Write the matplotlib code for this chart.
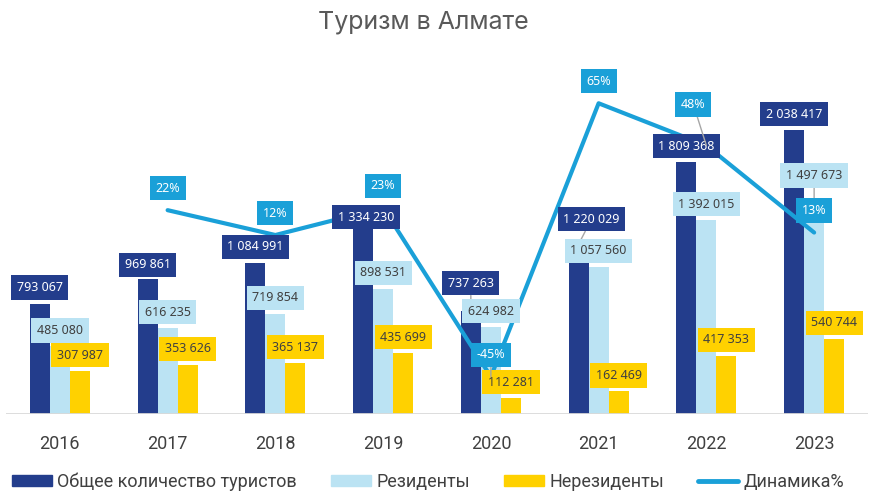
import matplotlib.pyplot as plt
import numpy as np
from matplotlib.patches import Patch
from matplotlib.lines import Line2D

plt.rcParams['font.family'] = ['Noto Sans', 'DejaVu Sans']

years = ['2016', '2017', '2018', '2019', '2020', '2021', '2022', '2023']
total = [793067, 969861, 1084991, 1334230, 737263, 1220029, 1809368, 2038417]
residents = [485080, 616235, 719854, 898531, 624982, 1057560, 1392015, 1497673]
nonresidents = [307987, 353626, 365137, 435699, 112281, 162469, 417353, 540744]
dynamics = [np.nan, 22, 12, 23, -45, 65, 48, 13]
legend_labels = ['Общее количество туристов', 'Резиденты', 'Нерезиденты', 'Динамика%']

DARK = '#233D8C'
LIGHT = '#BBE3F3'
YELLOW = '#FFD100'
CYAN = '#1AA0D8'
GREY = '#404040'

# label nudges in pixels (dx, dy) from the top of a bar / line point
total_nudge = {1: (0, 14), 3: (3, 11), 4: (0, 28), 5: (13, 25)}
resid_nudge = {7: (0, 30)}
dyn_nudge = {6: (-13, 41)}
leaders_total = {4, 5}
leaders_resid = {7}
leaders_dyn = {4, 6}


def fmt(v):
    return f'{v:,}'.replace(',', ' ')


fig = plt.figure(figsize=(8.74, 4.97), dpi=100)
ax = fig.add_axes([6 / 874, 83 / 497, 862 / 874, 348 / 497])
ax2 = ax.twinx()

x = np.arange(len(years))
w = 0.186
ax.bar(x - w, total, w, color=DARK)
ax.bar(x, residents, w, color=LIGHT)
ax.bar(x + w, nonresidents, w, color=YELLOW)
ax.set_ylim(0, 2_500_000)
ax.set_xlim(-0.5, len(years) - 0.5)
ax.axhline(0, color='#D9D9D9', lw=2, zorder=3)

ax2.plot(x, dynamics, color=CYAN, lw=3, solid_capstyle='round', zorder=2)
ax2.set_ylim(-60, 80)

for a in (ax, ax2):
    for s in a.spines.values():
        s.set_visible(False)
    a.set_yticks([])
ax.set_xticks(x)
ax.set_xticklabels(years, fontsize=13, color=GREY, family=['Roboto', 'DejaVu Sans'])
ax.tick_params(axis='x', length=0, pad=15)


def label(xv, yv, text, fc, tc, trans, nudge, leader):
    dx, dy = nudge
    arrow = dict(arrowstyle='-', color='#A6A6A6', lw=1, shrinkA=0, shrinkB=0) if leader else None
    ax2.annotate(text, (xv, yv), xycoords=trans, xytext=(dx, dy),
                 textcoords='offset pixels', ha='center', va='center',
                 fontsize=9, color=tc, zorder=6, arrowprops=arrow,
                 bbox=dict(boxstyle='square,pad=0.45', fc=fc, ec='none'))


for i in range(len(years)):
    label(x[i] - w, total[i], fmt(total[i]), DARK, 'white', ax.transData,
          total_nudge.get(i, (0, 16)), i in leaders_total)
    label(x[i], residents[i], fmt(residents[i]), LIGHT, GREY, ax.transData,
          resid_nudge.get(i, (0, 16)), i in leaders_resid)
    label(x[i] + w, nonresidents[i], fmt(nonresidents[i]), YELLOW, GREY, ax.transData,
          (0, 16), False)
    if not np.isnan(dynamics[i]):
        label(x[i], dynamics[i], f'{dynamics[i]:.0f}%', CYAN, 'white', ax2.transData,
              dyn_nudge.get(i, (0, 22)), i in leaders_dyn)

fig.text(423 / 874, 1 - 22 / 497, 'Туризм в Алмате', ha='center', va='center',
         fontsize=18, color='#595959', family=['Inter', 'DejaVu Sans'])

handles = [Patch(color=DARK), Patch(color=LIGHT), Patch(color=YELLOW),
           Line2D([], [], color=CYAN, lw=3.5, solid_capstyle='round')]
leg = fig.legend(handles, legend_labels, loc='center', bbox_to_anchor=(428 / 874, 15 / 497),
                 ncol=4, frameon=False, handlelength=2.2, handleheight=0.55,
                 columnspacing=1.9, handletextpad=0.3, borderpad=0,
                 prop={'family': ['Roboto', 'DejaVu Sans'], 'size': 13})
for t in leg.get_texts():
    t.set_color(GREY)

fig.savefig('out.png', dpi=100)
